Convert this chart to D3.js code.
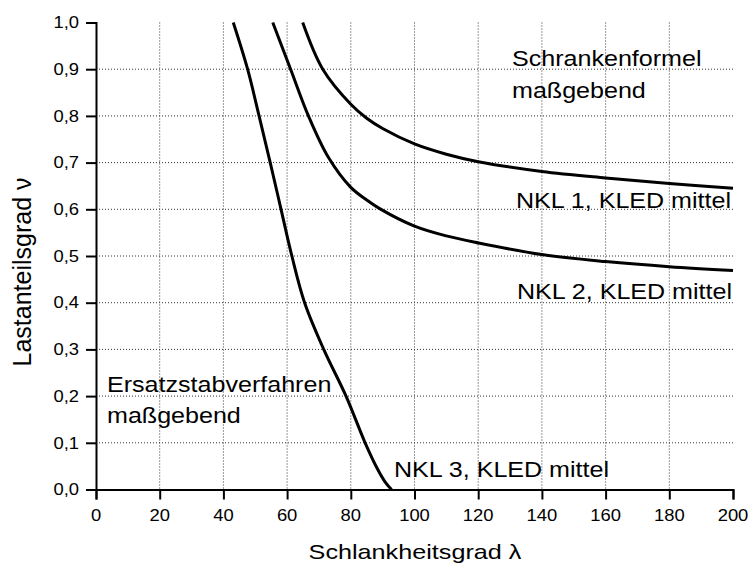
<!DOCTYPE html>
<html>
<head>
<meta charset="utf-8">
<script src="https://cdn.jsdelivr.net/npm/d3@7"></script>
<style>
  html, body { margin: 0; padding: 0; background: #fff; }
  svg { display: block; }
  text { font-family: "Liberation Sans", Arial, sans-serif; fill: #000; }
</style>
</head>
<body>
<svg id="chart" width="749" height="565"></svg>
<script>
// Slenderness ratio (λ) vs. load ratio (ν) boundary curves
const xTicks = [0, 20, 40, 60, 80, 100, 120, 140, 160, 180, 200];
const yTicks = [0, 0.1, 0.2, 0.3, 0.4, 0.5, 0.6, 0.7, 0.8, 0.9, 1.0];

const nkl1Lambda = [64.9, 71.2, 80, 85, 90, 100, 110, 120, 140, 160, 180, 200];
const nkl1Nu     = [1.0, 0.9, 0.825, 0.795, 0.773, 0.740, 0.718, 0.702, 0.681, 0.667, 0.655, 0.645];

const nkl2Lambda = [55.5, 61.1, 66.7, 72.9, 80, 85, 89.2, 100, 110, 120, 140, 160, 180, 200];
const nkl2Nu     = [1.0, 0.9, 0.8, 0.712, 0.647, 0.620, 0.601, 0.564, 0.543, 0.528, 0.503, 0.488, 0.477, 0.469];

const nkl3Lambda = [43.1, 47.6, 51.2, 54.7, 58.1, 61.5, 65.5, 71.5, 78.5, 84.5, 88.3, 90.8, 92.8];
const nkl3Nu     = [1.0, 0.9, 0.8, 0.7, 0.6, 0.5, 0.4, 0.3, 0.2, 0.1, 0.045, 0.016, 0.0];

const curves = [
  { name: "NKL 1, KLED mittel", lambda: nkl1Lambda, nu: nkl1Nu },
  { name: "NKL 2, KLED mittel", lambda: nkl2Lambda, nu: nkl2Nu },
  { name: "NKL 3, KLED mittel", lambda: nkl3Lambda, nu: nkl3Nu }
];

const svg = d3.select("#chart");
const pLeft = 96, pRight = 733, pTop = 22.5, pBottom = 489.5;

const x = d3.scaleLinear().domain([0, 200]).range([pLeft, pRight]);
const y = d3.scaleLinear().domain([0, 1]).range([pBottom, pTop]);
const fmt = d => d3.format(".1f")(d).replace(".", ",");

// helper: horizontally widened text
function label(g, px, py, str, size, sx, anchor) {
  return g.append("text")
    .attr("transform", `translate(${px},${py}) scale(${sx},1)`)
    .attr("text-anchor", anchor || "start")
    .style("font-size", size + "px")
    .text(str);
}

// dotted grid
const grid = svg.append("g");
grid.selectAll("line.h").data(yTicks.filter(v => v > 0 && v < 1)).join("line")
  .attr("class", "h")
  .attr("x1", pLeft).attr("x2", pRight)
  .attr("y1", d => y(d)).attr("y2", d => y(d))
  .attr("stroke", "#333").attr("stroke-width", 1).attr("stroke-dasharray", "1,2");
grid.selectAll("line.v").data(xTicks.filter(v => v > 0 && v < 200)).join("line")
  .attr("class", "v")
  .attr("x1", d => x(d)).attr("x2", d => x(d))
  .attr("y1", pTop).attr("y2", pBottom)
  .attr("stroke", "#333").attr("stroke-width", 1).attr("stroke-dasharray", "1,2");

// axes
const xAxis = svg.append("g").attr("transform", `translate(0,${pBottom})`)
  .call(d3.axisBottom(x).tickValues(xTicks).tickSize(10).tickFormat(() => ""));
const yAxis = svg.append("g").attr("transform", `translate(${pLeft},0)`)
  .call(d3.axisLeft(y).tickValues(yTicks).tickSize(10).tickFormat(() => ""));
[xAxis, yAxis].forEach(a => {
  a.select(".domain").attr("stroke", "#000").attr("stroke-width", 2);
  a.selectAll(".tick line").attr("stroke", "#000").attr("stroke-width", 2);
});

// tick labels
const tl = svg.append("g");
xTicks.forEach(v => label(tl, x(v), 521, String(v), 16, 1.15, "middle"));
yTicks.forEach(v => label(tl, 79, y(v) + 5.7, fmt(v), 16, 1.15, "end"));

// curves
svg.append("clipPath").attr("id", "plotclip").append("rect")
  .attr("x", pLeft).attr("y", pTop - 1).attr("width", pRight - pLeft + 2).attr("height", pBottom - pTop + 1);
const line = d3.line().x(d => x(d[0])).y(d => y(d[1])).curve(d3.curveCatmullRom.alpha(0.5));
svg.append("g").attr("clip-path", "url(#plotclip)")
  .selectAll("path").data(curves).join("path")
  .attr("d", c => line(c.lambda.map((l, i) => [l, c.nu[i]])))
  .attr("fill", "none").attr("stroke", "#000").attr("stroke-width", 3);

// annotations
const ann = svg.append("g");
label(ann, 512, 66, "Schrankenformel", 22, 1.14);
label(ann, 512, 98, "maßgebend", 22, 1.14);
label(ann, 516, 208, curves[0].name, 22, 1.14);
label(ann, 517, 299, curves[1].name, 22, 1.14);
label(ann, 394, 477, curves[2].name, 22, 1.14);
label(ann, 107, 392, "Ersatzstabverfahren", 22, 1.14);
label(ann, 107, 423, "maßgebend", 22, 1.14);

// axis titles
label(svg, 415, 559, "Schlankheitsgrad λ", 20, 1.26, "middle");
svg.append("text")
  .attr("transform", `translate(31,${(pTop + pBottom) / 2 + 16}) rotate(-90)`)
  .attr("text-anchor", "middle")
  .style("font-size", "25px")
  .text("Lastanteilsgrad ν");
</script>
</body>
</html>
